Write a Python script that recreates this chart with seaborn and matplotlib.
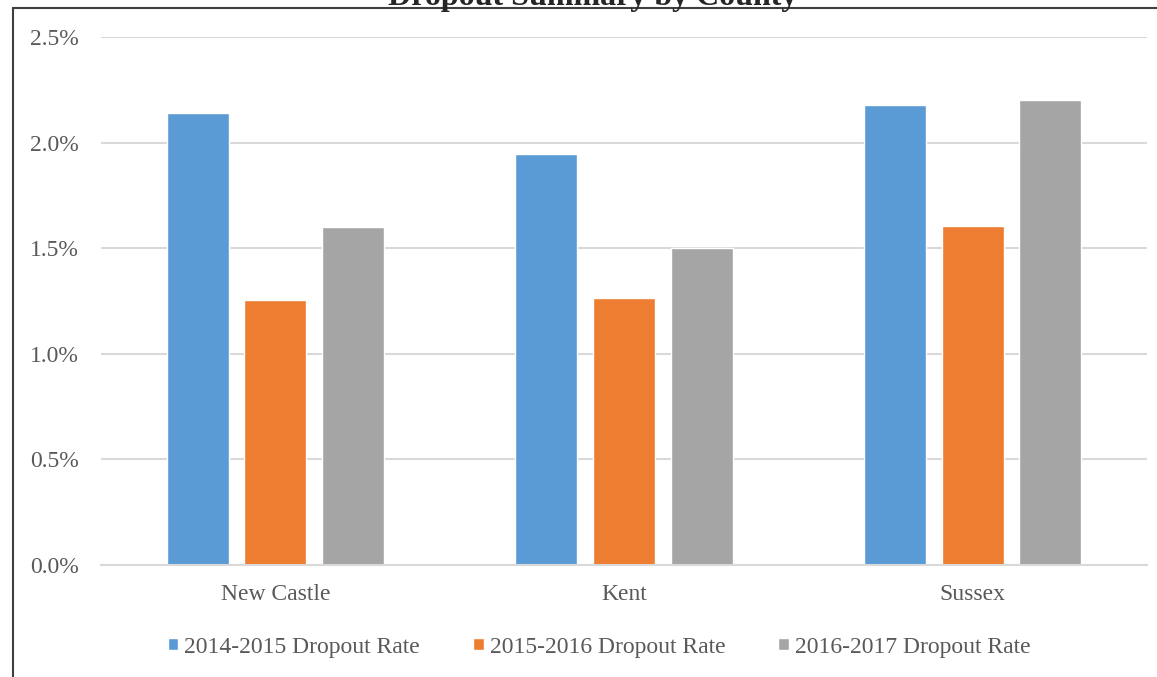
import pandas as pd
import matplotlib.pyplot as plt
import seaborn as sns
from matplotlib.patches import Rectangle
from matplotlib.ticker import PercentFormatter

counties = ['New Castle', 'Kent', 'Sussex']
years = ['2014-2015 Dropout Rate', '2015-2016 Dropout Rate', '2016-2017 Dropout Rate']
rate_2014 = [2.14, 1.946, 2.178]
rate_2015 = [1.255, 1.264, 1.605]
rate_2016 = [1.60, 1.501, 2.202]
colors = ['#5B9BD5', '#ED7D31', '#A5A5A5']

# long format for seaborn
df = pd.DataFrame({
    'County': counties * 3,
    'Year': [y for y in years for _ in counties],
    'Rate': rate_2014 + rate_2015 + rate_2016,
})

sns.set_style('white')
plt.rcParams['font.family'] = ['Liberation Serif', 'DejaVu Serif']

fig = plt.figure(figsize=(11.57, 6.77), dpi=100)
ax = fig.add_axes([101 / 1157, 1 - 565 / 677, 1046 / 1157, 528 / 677])

sns.barplot(data=df, x='County', y='Rate', hue='Year', palette=colors,
            width=0.667, gap=0.2, ax=ax, saturation=1)

ax.set_ylim(0, 2.5)
ax.set_xlim(-0.5, 2.5)
ax.set_yticks([0, 0.5, 1.0, 1.5, 2.0, 2.5])
ax.yaxis.set_major_formatter(PercentFormatter(decimals=1))
ax.yaxis.grid(True, color='#D9D9D9', linewidth=1.5)
ax.set_axisbelow(True)
for side in ['top', 'right', 'left']:
    ax.spines[side].set_visible(False)
ax.spines['bottom'].set_color('#D9D9D9')
ax.spines['bottom'].set_linewidth(1.5)
ax.tick_params(axis='both', length=0, labelsize=17, labelcolor='#595959')
ax.tick_params(axis='x', pad=14)
ax.tick_params(axis='y', pad=16)
ax.set_xlabel('')
ax.set_ylabel('')

# legend at the bottom of the figure
handles, labels = ax.get_legend_handles_labels()
ax.get_legend().remove()
leg = fig.legend(handles, labels, loc='center', bbox_to_anchor=(599 / 1157, 1 - 647 / 677),
                 ncol=3, frameon=False, fontsize=17, handlelength=0.45, handleheight=0.45,
                 handletextpad=0.25, columnspacing=2.25)
for t in leg.get_texts():
    t.set_color('#595959')

# chart border (runs off the right and bottom edges)
fig.patches.append(Rectangle((13 / 1157, -0.1), 1.2, 1.1 - 8 / 677, transform=fig.transFigure,
                             fill=False, edgecolor='#3F3F3F', linewidth=1.5, zorder=0))

# title is partly above the top edge, as in the original
fig.text(593 / 1157, 1 - 5 / 677, 'Dropout Summary by County', ha='center', va='baseline',
         fontsize=23, fontweight='bold')

fig.savefig('out.png', dpi=100)
